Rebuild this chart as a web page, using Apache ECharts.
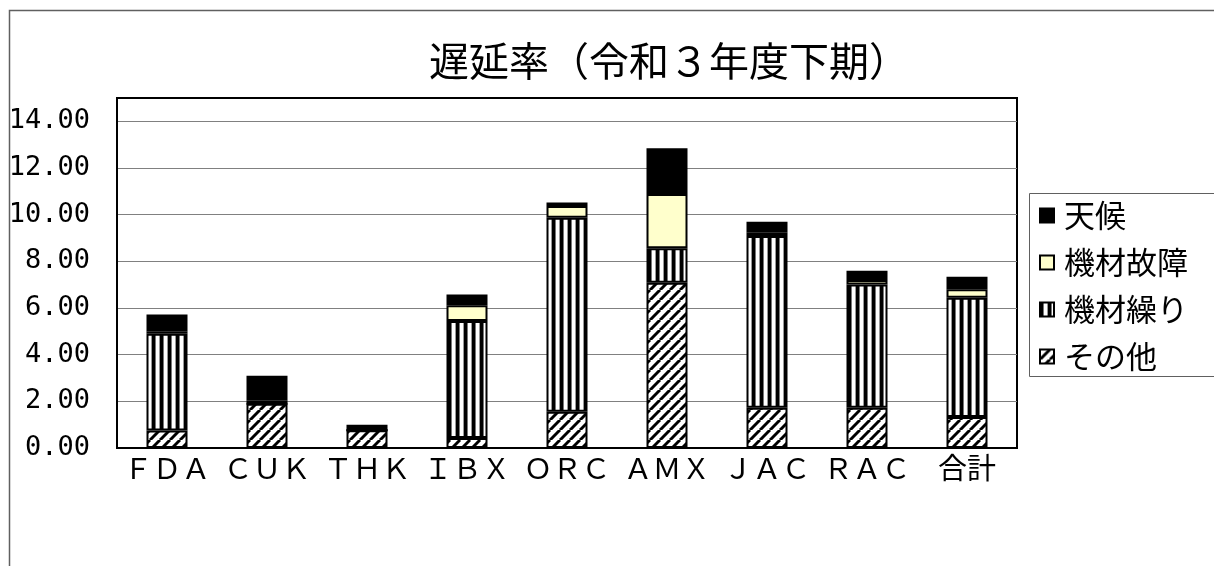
<!DOCTYPE html>
<html><head><meta charset="utf-8">
<script src="https://cdn.jsdelivr.net/npm/echarts@6/dist/echarts.min.js"></script>
<style>html,body{margin:0;padding:0;background:#fff}#c{width:1214px;height:566px}</style>
</head><body><div id="c"></div>
<script>
const categories = ['ＦＤＡ','ＣＵＫ','ＴＨＫ','ＩＢＸ','ＯＲＣ','ＡＭＸ','ＪＡＣ','ＲＡＣ','合計'];
const sonota   = [0.75, 1.90, 0.76, 0.43, 1.55, 7.08, 1.72, 1.72, 1.33];
const kizaiKuri = [4.15, 0, 0, 5.01, 8.32, 1.48, 7.37, 5.29, 5.11];
const kizaiKosho = [0.10, 0.15, 0, 0.68, 0.50, 2.33, 0.14, 0.19, 0.36];
const tenko    = [0.72, 1.05, 0.24, 0.46, 0.15, 1.96, 0.47, 0.40, 0.54];
const yTicks = [0, 2, 4, 6, 8, 10, 12, 14];

function diagPattern(){
  const s = 10, c = document.createElement('canvas'); c.width = s; c.height = s;
  const g = c.getContext('2d');
  g.fillStyle = '#fff'; g.fillRect(0,0,s,s);
  g.strokeStyle = '#000'; g.lineWidth = 3;
  for (const k of [-s, 0, s]) { g.beginPath(); g.moveTo(k, s); g.lineTo(k + s, 0); g.stroke(); }
  return c;
}
function vertPattern(){
  const c = document.createElement('canvas'); c.width = 8; c.height = 8;
  const g = c.getContext('2d');
  g.fillStyle = '#fff'; g.fillRect(0,0,8,8);
  g.fillStyle = '#000'; g.fillRect(0,0,3,8);
  g.fillStyle = '#777'; g.fillRect(3,0,1,8); g.fillStyle = '#999'; g.fillRect(7,0,1,8);
  return c;
}
const diag = {image: diagPattern(), repeat: 'repeat'};
const vert = {image: vertPattern(), repeat: 'repeat'};

const chart = echarts.init(document.getElementById('c'), null, {renderer: 'canvas'});
const border = {borderColor: '#000', borderWidth: 2};
function mk(name, data, color){
  return {name, type: 'bar', stack: 'a', data, barWidth: 41,
    itemStyle: Object.assign({color}, border), emphasis: {disabled: true}};
}
chart.setOption({
  animation: false,
  title: {text: '遅延率（令和３年度下期）', left: 424, top: 36,
    textStyle: {fontFamily: 'Noto Sans CJK JP', fontSize: 40, fontWeight: 'normal', color: '#000'}},
  grid: {left: 117, right: 197, top: 98, bottom: 118, show: true, borderColor: '#000', borderWidth: 2, containLabel: false},
  legend: {orient: 'vertical', left: 1039, top: 200, padding: 0, itemWidth: 14, itemHeight: 14, itemGap: 16, icon: 'rect',
    data: ['天候','機材故障','機材繰り','その他'],
    textStyle: {fontFamily: 'Noto Sans CJK JP', fontSize: 31, lineHeight: 30, color: '#000', padding: [0,0,0,5]}},
  xAxis: {type: 'category', data: categories,
    axisLine: {lineStyle: {color: '#000', width: 2}},
    axisTick: {inside: true, length: 6, lineStyle: {color: '#808080'}},
    axisLabel: {interval: 0, fontFamily: 'Noto Sans CJK JP', fontSize: 29, color: '#000', margin: 5}},
  yAxis: {type: 'value', min: 0, max: 15, interval: 2,
    axisLine: {show: true, lineStyle: {color: '#000', width: 2}},
    axisTick: {show: false},
    splitLine: {lineStyle: {color: '#808080', width: 1}, showMaxLine: false},
    axisLabel: {showMaxLabel: false, fontFamily: 'DejaVu Sans Mono', fontSize: 27, color: '#000', margin: 27,
      formatter: v => yTicks.includes(v) ? v.toFixed(2) : ''}},
  series: [
    mk('その他', sonota, diag),
    mk('機材繰り', kizaiKuri, vert),
    mk('機材故障', kizaiKosho, '#FFFFCC'),
    mk('天候', tenko, '#000')
  ],
  graphic: [
    {type: 'rect', left: 7, top: 8, shape: {width: 1400, height: 800}, style: {fill: 'none', stroke: '#606060', lineWidth: 1.5}, silent: true},
    {type: 'rect', left: 1027, top: 191, shape: {width: 186, height: 183}, style: {fill: 'none', stroke: '#606060', lineWidth: 1}, silent: true}
  ]
});
</script></body></html>
